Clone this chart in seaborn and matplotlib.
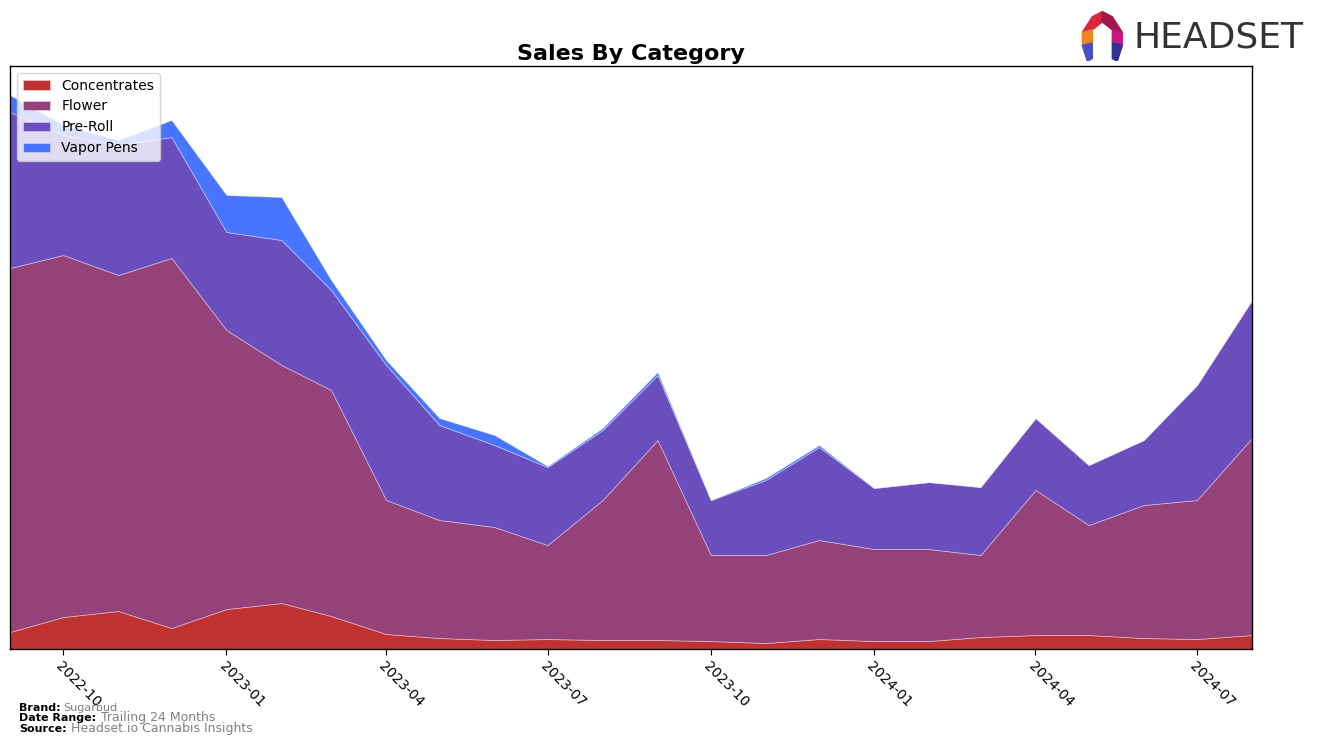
import pandas as pd
import seaborn as sns
import matplotlib.pyplot as plt
import matplotlib.dates as mdates
from matplotlib.patches import Polygon

# monthly sales by category (arbitrary units)
months = pd.date_range("2022-09-01", "2024-08-01", freq="MS")
concentrates = [17, 32, 38, 21, 40, 46, 33, 15, 11, 9, 10, 9,
                9, 8, 6, 10, 8, 8, 12, 14, 14, 11, 10, 14]
flower = [364, 362, 336, 370, 279, 238, 226, 134, 118, 113, 94, 140,
          200, 86, 88, 99, 92, 92, 82, 145, 110, 133, 139, 197]
pre_roll = [156, 120, 130, 121, 98, 125, 100, 135, 95, 82, 78, 70,
            65, 55, 75, 93, 61, 67, 68, 72, 60, 65, 115, 138]
vapor_pens = [17, 10, 5, 17, 37, 43, 10, 5, 7, 10, 1, 2,
              3, 0, 2, 2, 0, 0, 0, 0, 0, 0, 0, 0]
categories = ["Concentrates", "Flower", "Pre-Roll", "Vapor Pens"]
colors = ["#c03232", "#96427a", "#6a4ebd", "#4775ff"]

sns.set_style("white")
plt.rcParams["font.family"] = ["DejaVu Sans"]
plt.rcParams["text.color"] = "black"
plt.rcParams["xtick.color"] = "black"

fig = plt.figure(figsize=(13.17, 7.46), dpi=100)
ax = fig.add_axes([0.0076, 0.130, 0.943, 0.7815])

ax.stackplot(months, concentrates, flower, pre_roll, vapor_pens,
             labels=categories, colors=colors,
             edgecolor=(1, 1, 1, 0.4), linewidth=0.6)

ax.set_xlim(months[0], months[-1])
ax.set_ylim(0, 583)
ax.set_yticks([])
ax.xaxis.set_major_locator(mdates.MonthLocator(bymonth=[1, 4, 7, 10]))
ax.xaxis.set_major_formatter(mdates.DateFormatter("%Y-%m"))
ax.tick_params(axis="x", bottom=True, length=4, labelsize=10, colors="black")
for lbl in ax.get_xticklabels():
    lbl.set_rotation(-45)
    lbl.set_ha("left")
    lbl.set_rotation_mode("anchor")
for s in ax.spines.values():
    s.set_color("black")
    s.set_linewidth(1)

ax.set_title("Sales By Category", fontsize=16, fontweight="bold", pad=4, color="black")
leg = ax.legend(loc="upper left", fontsize=10, frameon=True)
for t in leg.get_texts():
    t.set_color("black")

# footer info
fig.text(0.0144, 0.047, "Brand:", fontsize=8, fontweight="bold")
fig.text(0.048, 0.047, "Sugarbud", fontsize=8, color="gray")
fig.text(0.0144, 0.033, "Date Range:", fontsize=8, fontweight="bold")
fig.text(0.077, 0.033, "Trailing 24 Months", fontsize=9, color="gray")
fig.text(0.0144, 0.019, "Source:", fontsize=8, fontweight="bold")
fig.text(0.054, 0.019, "Headset.io Cannabis Insights", fontsize=9, color="gray")

# logo
fig.text(0.861, 0.950, "HEADSET", fontsize=26, color="#333333",
         va="center", ha="left")
logo = fig.add_axes([0.818, 0.918, 0.038, 0.07])
logo.set_xlim(0, 1)
logo.set_ylim(0, 1)
logo.axis("off")
logo.add_patch(Polygon([[0.1, 0.55], [0.3, 0.85], [0.5, 0.95], [0.5, 0.75], [0.3, 0.6]], color="#d7263d"))
logo.add_patch(Polygon([[0.5, 0.95], [0.7, 0.85], [0.9, 0.55], [0.7, 0.6], [0.5, 0.75]], color="#a3174f"))
logo.add_patch(Polygon([[0.1, 0.55], [0.3, 0.6], [0.3, 0.35], [0.1, 0.3]], color="#f58220"))
logo.add_patch(Polygon([[0.9, 0.55], [0.7, 0.6], [0.7, 0.35], [0.9, 0.3]], color="#c2187f"))
logo.add_patch(Polygon([[0.1, 0.3], [0.3, 0.35], [0.3, 0.05], [0.2, 0.0]], color="#4b4fc4"))
logo.add_patch(Polygon([[0.9, 0.3], [0.7, 0.35], [0.7, 0.05], [0.8, 0.0]], color="#2e3192"))

fig.savefig("out.png", dpi=100)
